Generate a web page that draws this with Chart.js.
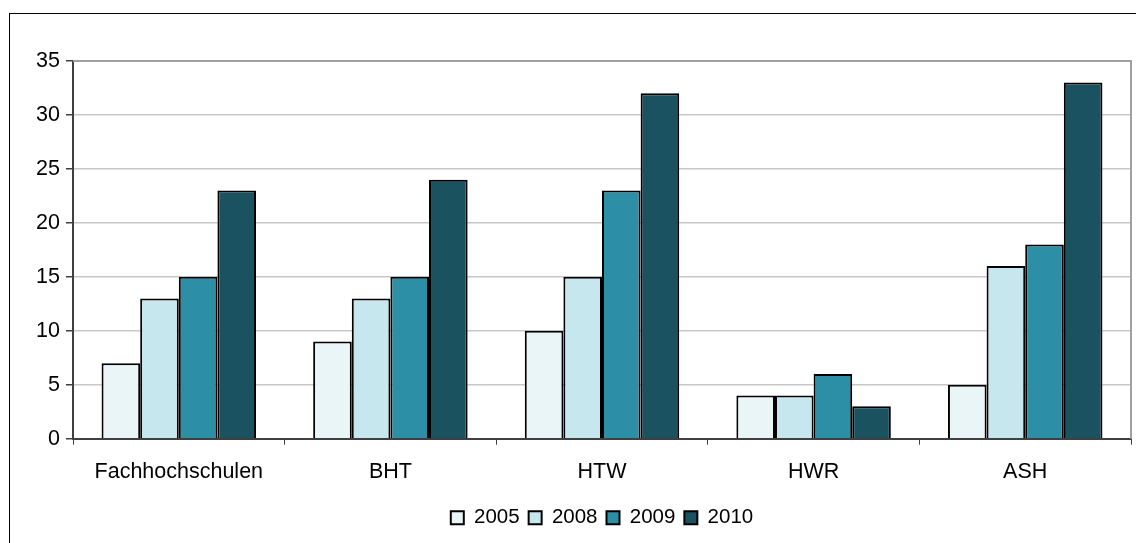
<!DOCTYPE html>
<html>
<head>
<meta charset="utf-8">
<script src="https://cdn.jsdelivr.net/npm/chart.js@4.4.1/dist/chart.umd.min.js"></script>
<style>
  html, body { margin: 0; padding: 0; background: #fff; overflow: hidden; }
  #wrap { position: relative; width: 1136px; height: 543px; }
  #frame { position: absolute; left: 9px; top: 13px; width: 1140px; height: 560px; border: 1px solid #000; box-sizing: border-box; }
  #Chart { position: absolute; left: 0; top: 0; }
</style>
</head>
<body>
<div id="wrap">
  <div id="frame"></div>
  <canvas id="Chart" width="1136" height="543"></canvas>
</div>
<script>
// Daten
var categories = ['Fachhochschulen', 'BHT', 'HTW', 'HWR', 'ASH'];
var years = ['2005', '2008', '2009', '2010'];
var values2005 = [7, 9, 10, 4, 5];
var values2008 = [13, 13, 15, 4, 16];
var values2009 = [15, 15, 23, 6, 18];
var values2010 = [23, 24, 32, 3, 33];
var yTicks = [0, 5, 10, 15, 20, 25, 30, 35];

var colors = ['#EAF5F8', '#C7E7EE', '#2D8FA6', '#1A525F'];
var series = [values2005, values2008, values2009, values2010];
var fontFamily = 'Liberation Sans, Arial, sans-serif';

// Rahmen oben und rechts um den Plotbereich
var plotBorder = {
  id: 'plotBorder',
  afterDraw: function (chart) {
    var a = chart.chartArea;
    var c = chart.ctx;
    c.save();
    c.strokeStyle = '#a0a0a0';
    c.lineWidth = 2;
    c.beginPath();
    c.moveTo(a.left, a.top);
    c.lineTo(a.right, a.top);
    c.lineTo(a.right, a.bottom);
    c.stroke();
    c.restore();
  }
};

var ctx = document.getElementById('Chart').getContext('2d');
var myChart = new Chart(ctx, {
  type: 'bar',
  data: {
    labels: categories,
    datasets: years.map(function (y, i) {
      return {
        label: y,
        data: series[i],
        backgroundColor: colors[i],
        borderColor: '#000',
        borderWidth: 2,
        borderSkipped: 'bottom',
        categoryPercentage: 0.73,
        barPercentage: 1.0
      };
    })
  },
  options: {
    responsive: false,
    animation: false,
    layout: { padding: { left: 10, right: 5, top: 61, bottom: 5 } },
    plugins: {
      tooltip: { enabled: false },
      legend: {
        position: 'bottom',
        fullSize: false,
        labels: {
          color: '#000',
          font: { family: fontFamily, size: 20.5 },
          boxWidth: 13,
          boxHeight: 13,
          padding: 9
        }
      }
    },
    scales: {
      x: {
        grid: {
          drawOnChartArea: false,
          offset: true,
          tickLength: 6,
          tickColor: '#404040'
        },
        border: { color: '#404040', width: 2 },
        ticks: {
          color: '#000',
          padding: 14,
          font: { family: fontFamily, size: 21.5 }
        }
      },
      y: {
        min: 0,
        max: 35,
        afterFit: function (scale) { scale.width = 63; },
        afterBuildTicks: function (scale) {
          scale.ticks = yTicks.map(function (v) { return { value: v }; });
        },
        grid: {
          color: '#c8c8c8',
          lineWidth: 1.5,
          tickLength: 7,
          tickColor: '#404040'
        },
        border: { color: '#404040', width: 2 },
        ticks: {
          color: '#000',
          padding: 6,
          font: { family: fontFamily, size: 21.5 }
        }
      }
    }
  },
  plugins: [plotBorder]
});
</script>
</body>
</html>
